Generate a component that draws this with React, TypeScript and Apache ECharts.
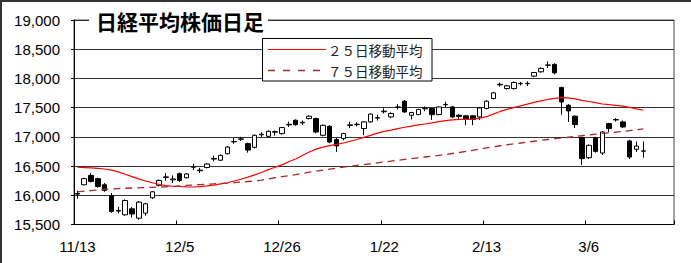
import React, { useEffect, useRef } from "react";
import * as echarts from "echarts";

const dates: string[] = [
  "11/13","11/14","11/15","11/16","11/17","11/20","11/21","11/22","11/24","11/27","11/28","11/29","11/30",
  "12/1","12/4","12/5","12/6","12/7","12/8","12/11","12/12","12/13","12/14","12/15","12/18","12/19","12/20","12/21","12/22","12/25","12/26","12/27","12/28","12/29",
  "1/4","1/5","1/9","1/10","1/11","1/12","1/15","1/16","1/17","1/18","1/19","1/22","1/23","1/24","1/25","1/26","1/29","1/30","1/31",
  "2/1","2/2","2/5","2/6","2/7","2/8","2/9","2/13","2/14","2/15","2/16","2/19","2/20","2/21","2/22","2/23","2/26","2/27","2/28",
  "3/1","3/2","3/5","3/6","3/7","3/8","3/9","3/12","3/13","3/14","3/15","3/16","3/19","3/20","3/22","3/23",
];

const opens: number[] = [
  16030,16180,16340,16285,16180,15997,15740,15666,15768,15608,15694,15957,16169,
  16305,16265,16369,16300,16480,16420,16475,16620,16600,16712,16915,16960,16884,16820,17035,17009,17080,17056,17205,17284,17240,
  17313,17313,17027,17181,16953,16970,17195,17210,17142,17256,17320,17430,17341,17505,17610,17370,17381,17480,17485,
  17381,17550,17512,17370,17360,17360,17341,17485,17656,17890,17827,17827,17910,17910,18039,18113,18225,18240,17845,
  17541,17353,16987,16643,16980,16723,17227,17290,17256,16930,16787,16755,
];
const closes: number[] = [
  16020,16285,16237,16150,16083,15722,15730,15911,15680,15883,15854,16060,16254,
  16315,16280,16254,16365,16488,16430,16535,16630,16683,16826,16920,16965,16775,17027,17045,17095,17090,17159,17215,17210,17250,
  17353,17083,17198,16912,16845,17056,17205,17215,17256,17390,17330,17440,17399,17512,17427,17416,17467,17490,17381,
  17512,17555,17341,17350,17300,17300,17495,17610,17753,17900,17873,17930,17915,17915,18102,18171,18230,18096,17598,
  17444,17210,16627,16855,16752,17083,17142,17296,17170,16655,16843,16760,
];
const lows: number[] = [
  15940,16170,16220,16130,16060,15700,15690,15650,15620,15580,15650,15940,16150,
  16250,16210,16230,16290,16430,16380,16460,16580,16590,16700,16880,16930,16730,16800,17000,16990,17020,17040,17170,17190,17200,
  17300,17060,17010,16890,16740,16940,17150,17180,17027,17240,17280,17400,17320,17470,17410,17300,17370,17440,17290,
  17370,17510,17320,17300,17200,17200,17290,17470,17640,17860,17810,17810,17880,17870,18020,18100,18180,18070,17380,
  17255,17150,16520,16620,16730,16690,17080,17260,17150,16620,16740,16643,
];
const highs: number[] = [
  16080,16300,16380,16300,16210,16040,15800,15930,15800,15900,15870,16070,16270,
  16380,16340,16390,16380,16540,16470,16550,16680,16700,16840,16980,17000,16900,17040,17080,17110,17110,17170,17260,17300,17280,
  17370,17330,17210,17200,16980,17070,17260,17250,17270,17400,17380,17490,17420,17560,17630,17430,17480,17520,17500,
  17520,17600,17530,17390,17370,17370,17510,17625,17770,17930,17890,17950,17940,17950,18110,18190,18290,18260,17860,
  17560,17370,17000,16870,17000,17100,17240,17320,17280,16950,16920,16920,
];

const ma25: number[] = [
  16480,16475,16470,16462,16450,16430,16400,16360,16320,16280,16245,16215,16185,
  16165,16155,16150,16145,16142,16148,16160,16175,16195,16215,16245,16275,16310,16350,16390,16440,16480,16520,16575,16620,16680,
  16740,16790,16825,16850,16870,16895,16925,16955,16990,17025,17065,17095,17115,17140,17165,17185,17205,17220,17240,
  17262,17278,17292,17298,17300,17305,17320,17345,17390,17435,17470,17500,17530,17560,17590,17615,17640,17660,17673,
  17668,17650,17625,17605,17585,17562,17550,17540,17525,17505,17480,17456,
];
const ma75: number[] = [
  16060,16070,16080,16090,16100,16110,16115,16120,16125,16128,16132,16136,16140,
  16145,16152,16160,16168,16176,16183,16190,16196,16202,16208,16215,16225,16236,16248,16260,16280,16300,16318,16336,16355,16375,
  16395,16412,16430,16448,16465,16482,16497,16512,16526,16540,16555,16570,16585,16600,16614,16628,16642,16655,16668,
  16682,16698,16715,16732,16750,16770,16790,16810,16830,16848,16865,16880,16895,16910,16925,16940,16955,16968,16980,
  16993,17006,17019,17032,17045,17058,17070,17082,17094,17108,17122,17138,
];

const titleText = "日経平均株価日足";
const legendNames = ["２５日移動平均", "７５日移動平均"];
const yMin = 15500;
const yMax = 19000;
const yStep = 500;

export default function App() {
  const ref = useRef<HTMLDivElement>(null);
  useEffect(() => {
    if (!ref.current) return;
    const chart = echarts.init(ref.current, null, { renderer: "svg" });
    const candles = opens.map((o, i) => [o, closes[i], lows[i], highs[i]]);
    const font = "'Liberation Sans', Arial, sans-serif";
    const cjk = "'Noto Sans CJK JP', sans-serif";
    chart.setOption({
      animation: false,
      backgroundColor: "#fff",
      grid: {
        left: 74,
        right: 17,
        top: 20,
        bottom: 38.5,
        show: true,
        borderColor: "#444",
        borderWidth: 1,
        backgroundColor: "transparent",
      },
      xAxis: {
        type: "category",
        data: dates,
        boundaryGap: true,
        axisLine: { lineStyle: { color: "#000", width: 1 } },
        axisTick: { show: true, inside: true, length: 4, interval: 14, lineStyle: { color: "#000" } },
        axisLabel: { interval: 14, margin: 14, color: "#000", fontSize: 15, fontFamily: font },
        splitLine: { show: false },
      },
      yAxis: {
        type: "value",
        min: yMin,
        max: yMax,
        interval: yStep,
        axisLine: { show: true, lineStyle: { color: "#000", width: 1 } },
        axisTick: { show: true, length: 3, lineStyle: { color: "#000" } },
        axisLabel: {
          margin: 14,
          color: "#000",
          fontSize: 15,
          fontFamily: font,
          formatter: (v: number) => v.toLocaleString("en-US"),
        },
        splitLine: { show: true, lineStyle: { color: "#333", width: 1 } },
      },
      series: [
        {
          type: "candlestick",
          data: candles,
          barWidth: 5,
          itemStyle: {
            color: "#fff",
            color0: "#000",
            borderColor: "#000",
            borderColor0: "#000",
            borderWidth: 1,
          },
        },
        {
          type: "line",
          name: legendNames[0],
          data: ma25,
          showSymbol: false,
          symbol: "none",
          lineStyle: { color: "#ff0000", width: 1.2 },
          z: 3,
        },
        {
          type: "line",
          name: legendNames[1],
          data: ma75,
          showSymbol: false,
          symbol: "none",
          lineStyle: { color: "#a3282c", width: 1.3, type: [7, 5] },
          z: 3,
        },
      ],
      graphic: {
        elements: [
          { type: "line", z: 100, shape: { x1: 0, y1: 1, x2: 691, y2: 1 }, style: { stroke: "#333", lineWidth: 2 } },
          { type: "line", z: 100, shape: { x1: 1, y1: 0, x2: 1, y2: 263 }, style: { stroke: "#333", lineWidth: 2 } },
          { type: "rect", z: 100, shape: { x: 89, y: 10, width: 179, height: 22 }, style: { fill: "#fff" } },
          {
            type: "text", z: 101, x: 96, y: 21,
            style: { text: titleText, fontSize: 21, fontWeight: "bold", fontFamily: cjk, fill: "#000", align: "left", verticalAlign: "middle" },
          },
          { type: "rect", z: 100, shape: { x: 262.5, y: 38.5, width: 169.5, height: 42.5 }, style: { fill: "#fff", stroke: "#000", lineWidth: 1 } },
          { type: "line", z: 101, shape: { x1: 268, y1: 49.5, x2: 326, y2: 49.5 }, style: { stroke: "#ff0000", lineWidth: 1 } },
          { type: "line", z: 101, shape: { x1: 268, y1: 70.5, x2: 326, y2: 70.5 }, style: { stroke: "#a3282c", lineWidth: 1.3, lineDash: [7, 8] } },
          {
            type: "text", z: 101, x: 328, y: 49.5,
            style: { text: legendNames[0], fontSize: 13.5, fontFamily: cjk, fill: "#222", align: "left", verticalAlign: "middle" },
          },
          {
            type: "text", z: 101, x: 328, y: 70.8,
            style: { text: legendNames[1], fontSize: 13.5, fontFamily: cjk, fill: "#222", align: "left", verticalAlign: "middle" },
          },
        ],
      },
    });
    return () => chart.dispose();
  }, []);
  return <div ref={ref} style={{ position: "fixed", left: 0, top: 0, width: 691, height: 263 }} />;
}
